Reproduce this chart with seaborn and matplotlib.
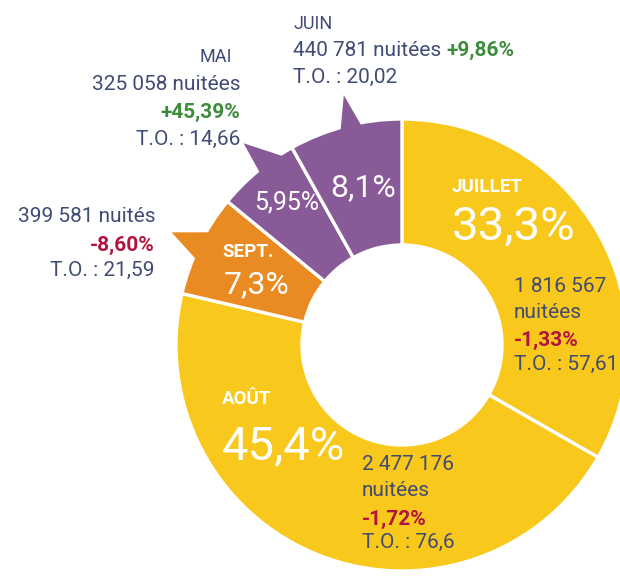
import matplotlib.pyplot as plt
import numpy as np
import seaborn as sns
from matplotlib import font_manager
from matplotlib.patches import Polygon

# chart data, clockwise from 12 o'clock
months = ["JUILLET", "AOÛT", "SEPT.", "MAI", "JUIN"]
shares = [33.3, 45.4, 7.3, 5.95, 8.1]
share_labels = ["33,3%", "45,4%", "7,3%", "5,95%", "8,1%"]
nights = ["1 816 567", "2 477 176", "399 581", "325 058", "440 781"]
nights_word = ["nuitées", "nuitées", "nuités", "nuitées", "nuitées"]
changes = ["-1,33%", "-1,72%", "-8,60%", "+45,39%", "+9,86%"]
occupancy = ["57,61", "76,6", "21,59", "14,66", "20,02"]

W, H = 620, 576
YELLOW, ORANGE, PURPLE = "#f8c81c", "#e98b22", "#885a98"
SLATE, GREEN, CRIMSON = "#414b74", "#3d8b3d", "#b3133f"


def Y(y):
    # reference is measured from the top edge
    return H - y


sns.set_theme(style="white")
installed = {f.name for f in font_manager.fontManager.ttflist}
family = next((f for f in ["Roboto", "Liberation Sans Narrow", "DejaVu Sans"] if f in installed), "DejaVu Sans")
plt.rcParams["font.family"] = [family, "DejaVu Sans"]

fig = plt.figure(figsize=(W / 100, H / 100), dpi=100)
ax = fig.add_axes([0, 0, 1, 1])

center = (402, Y(345))
R = 226
wedges, _ = ax.pie(
    shares,
    colors=[YELLOW, YELLOW, ORANGE, PURPLE, PURPLE],
    startangle=90,
    counterclock=False,
    radius=R,
    center=center,
    wedgeprops=dict(width=126, edgecolor="white", linewidth=2.4),
)

# callout spikes on the small slices: (base start, base end, apex) as fractions of the wedge span
spikes = {2: (0.33, 0.69, 0.49), 3: (0.50, 0.92, 0.58), 4: (0.43, 0.66, 0.55)}


def on_wedge(w, frac, r):
    a = np.deg2rad(w.theta2 - frac * (w.theta2 - w.theta1))
    return center[0] + r * np.cos(a), center[1] + r * np.sin(a)


for i, (f0, f1, fa) in spikes.items():
    w = wedges[i]
    pts = [on_wedge(w, f0, R * 0.96), on_wedge(w, fa, R * 1.135), on_wedge(w, f1, R * 0.96)]
    ax.add_patch(Polygon(pts, closed=True, facecolor=w.get_facecolor(), edgecolor="none", zorder=3))

# labels inside the ring
inner = {
    0: dict(name=(452, 185, "left"), pct=(452, 222, "left", 34)),
    1: dict(name=(222, 397, "left"), pct=(222, 442, "left", 34)),
    2: dict(name=(248, 250, "center"), pct=(257, 282, "center", 23)),
    3: dict(pct=(287, 200, "center", 18)),
    4: dict(pct=(363, 185, "center", 23)),
}
for i, pos in inner.items():
    if "name" in pos:
        x, y, ha = pos["name"]
        ax.text(x, Y(y), months[i], color="white", fontsize=13.5, fontweight="bold",
                ha=ha, va="center_baseline", zorder=5)
    x, y, ha, fs = pos["pct"]
    ax.text(x, Y(y), share_labels[i], color="white", fontsize=fs,
            ha=ha, va="center_baseline", zorder=5)

# outside / side annotations: x, ha, line y positions
BODY = 15
blocks = {
    0: (514, "left", [285, 310, 338, 362]),
    1: (362, "left", [462, 488, 517, 540]),
    2: (155, "right", [215, 243, 268]),
    3: (240, "right", [55, 82, 110, 137]),
    4: (293, "left", [22, 48, 75]),
}


def change_color(s):
    return GREEN if s.startswith("+") else CRIMSON


for i, (x, ha, ys) in blocks.items():
    kw = dict(ha=ha, va="center_baseline", zorder=5)
    if i in (0, 1):
        ax.text(x, Y(ys[0]), nights[i], color=SLATE, fontsize=BODY, **kw)
        ax.text(x, Y(ys[1]), nights_word[i], color=SLATE, fontsize=BODY, **kw)
        ax.text(x, Y(ys[2]), changes[i], color=change_color(changes[i]), fontsize=BODY,
                fontweight="bold", **kw)
        ax.text(x, Y(ys[3]), f"T.O. : {occupancy[i]}", color=SLATE, fontsize=BODY, **kw)
    elif i == 2:
        ax.text(x, Y(ys[0]), f"{nights[i]} {nights_word[i]}", color=SLATE, fontsize=BODY, **kw)
        ax.text(x, Y(ys[1]), changes[i], color=change_color(changes[i]), fontsize=BODY,
                fontweight="bold", **kw)
        ax.text(x, Y(ys[2]), f"T.O. : {occupancy[i]}", color=SLATE, fontsize=BODY, **kw)
    elif i == 3:
        ax.text(x - 8, Y(ys[0]), months[i], color=SLATE, fontsize=13, **kw)
        ax.text(x, Y(ys[1]), f"{nights[i]} {nights_word[i]}", color=SLATE, fontsize=BODY, **kw)
        ax.text(x, Y(ys[2]), changes[i], color=change_color(changes[i]), fontsize=BODY,
                fontweight="bold", **kw)
        ax.text(x, Y(ys[3]), f"T.O. : {occupancy[i]}", color=SLATE, fontsize=BODY, **kw)
    else:
        ax.text(x, Y(ys[0]), months[i], color=SLATE, fontsize=13, **kw)
        first = ax.text(x, Y(ys[1]), f"{nights[i]} {nights_word[i]}", color=SLATE,
                        fontsize=BODY, **kw)
        ax.annotate(changes[i], xy=(1, 0), xycoords=first, xytext=(4, 0),
                    textcoords="offset points", ha="left", va="bottom",
                    color=change_color(changes[i]), fontsize=BODY, fontweight="bold")
        ax.text(x, Y(ys[2]), f"T.O. : {occupancy[i]}", color=SLATE, fontsize=BODY, **kw)

ax.set_xlim(0, W)
ax.set_ylim(0, H)
ax.set_aspect("equal")
ax.axis("off")

fig.savefig("out.png", dpi=100, facecolor="white")
